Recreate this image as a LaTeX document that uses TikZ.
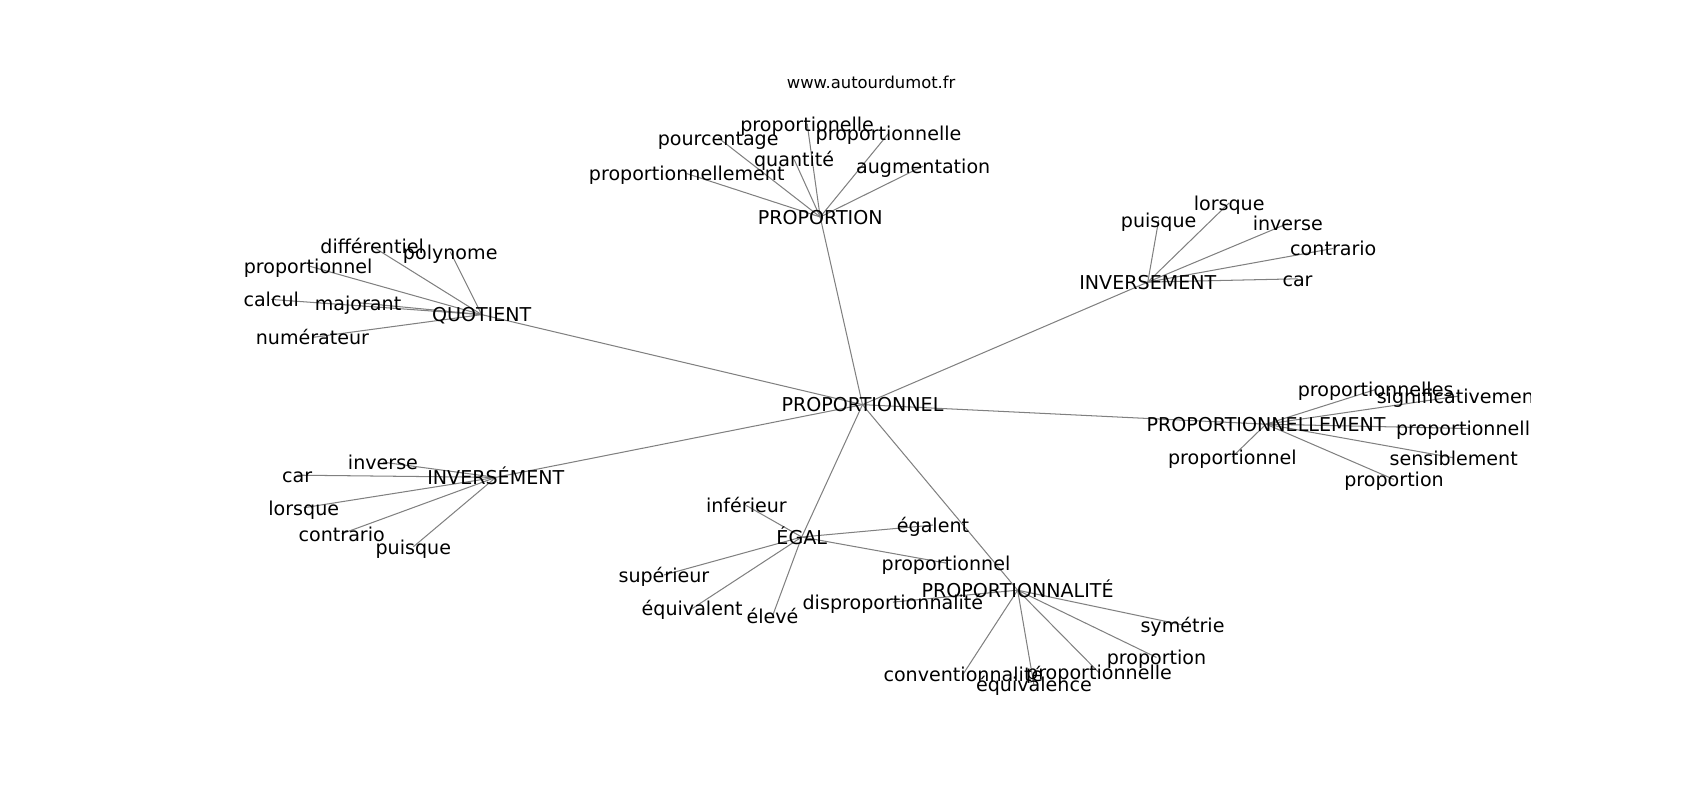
\documentclass[tikz,border=0pt]{standalone}
\usepackage{fontspec}
\newfontfamily\dv{DejaVu Sans}
\usetikzlibrary{backgrounds}
\tikzset{
  lbl/.style={font=\dv\fontsize{17.6}{20}\selectfont, inner sep=0pt, text height=15.4pt, text depth=1.9pt, anchor=center},
  ttl/.style={font=\dv\fontsize{15.1}{18}\selectfont, inner sep=0pt, text height=13.0pt, text depth=1.6pt, anchor=center},
  edge/.style={draw=gray, line width=0.95pt}
}
\begin{document}
\begin{tikzpicture}[x=1pt,y=-1pt]
\useasboundingbox (0,0) rectangle (1567,737.4);
\node[ttl] (title) at (803,76) {www.autourdumot.fr};
\begin{scope}
\clip (195.9,88.4) rectangle (1410.3,655.9);
% hubs
\node[lbl] (hub) at (795,373) {PROPORTIONNEL};
\node[lbl] (prop) at (756,200) {PROPORTION};
\node[lbl] (quot) at (444,290) {QUOTIENT};
\node[lbl] (invA) at (1058,260) {INVERSEMENT};
\node[lbl] (invB) at (457,440) {INVERSÉMENT};
\node[lbl] (pnlm) at (1167,391) {PROPORTIONNELLEMENT};
\node[lbl] (egal) at (739,495) {ÉGAL};
\node[lbl] (pnal) at (938,544) {PROPORTIONNALITÉ};
% PROPORTION leaves
\node[lbl] (p1) at (744,114) {proportionelle};
\node[lbl] (p2) at (662,127) {pourcentage};
\node[lbl] (p3) at (819,123) {proportionnelle};
\node[lbl] (p4) at (732,147) {quantité};
\node[lbl] (p5) at (851,153) {augmentation};
\node[lbl] (p6) at (633,160) {proportionnellement};
% QUOTIENT leaves
\node[lbl] (q1) at (343,227) {différentiel};
\node[lbl] (q2) at (415,232) {polynome};
\node[lbl] (q3) at (284,245) {proportionnel};
\node[lbl] (q4) at (250,276) {calcul};
\node[lbl] (q5) at (330,279) {majorant};
\node[lbl] (q6) at (288,311) {numérateur};
% INVERSEMENT leaves
\node[lbl] (a1) at (1068,203) {puisque};
\node[lbl] (a2) at (1133,187) {lorsque};
\node[lbl] (a3) at (1187,206) {inverse};
\node[lbl] (a4) at (1229,229) {contrario};
\node[lbl] (a5) at (1196,257) {car};
% INVERSÉMENT leaves
\node[lbl] (b1) at (353,426) {inverse};
\node[lbl] (b2) at (274,438) {car};
\node[lbl] (b3) at (280,468) {lorsque};
\node[lbl] (b4) at (315,492) {contrario};
\node[lbl] (b5) at (381,504) {puisque};
% PROPORTIONNELLEMENT leaves
\node[lbl] (m1) at (1268,359) {proportionnelles};
\node[lbl] (m2) at (1345,365) {significativement};
\node[lbl] (m3) at (1354,395) {proportionnelle};
\node[lbl] (m4) at (1340,422) {sensiblement};
\node[lbl] (m5) at (1285,442) {proportion};
\node[lbl] (m6) at (1136,421) {proportionnel};
% ÉGAL leaves
\node[lbl] (e1) at (688,466) {inférieur};
\node[lbl] (e2) at (860,484) {égalent};
\node[lbl] (e3) at (872,519) {proportionnel};
\node[lbl] (e4) at (612,530) {supérieur};
\node[lbl] (e5) at (638,561) {équivalent};
\node[lbl] (e6) at (712,568) {élevé};
% PROPORTIONNALITÉ leaves
\node[lbl] (n1) at (823,555) {disproportionnalité};
\node[lbl] (n2) at (1090,576) {symétrie};
\node[lbl] (n3) at (1066,606) {proportion};
\node[lbl] (n4) at (1013,620) {proportionnelle};
\node[lbl] (n5) at (888,621) {conventionnalité};
\node[lbl] (n6) at (953,631) {équivalence};
\end{scope}
\begin{scope}[on background layer]
\foreach \h in {prop,quot,invA,invB,pnlm,egal,pnal}
  \draw[edge] (hub.center) -- (\h.center);
\foreach \l in {p1,p2,p3,p4,p5,p6}
  \draw[edge] (prop.center) -- (\l.center);
\foreach \l in {q1,q2,q3,q4,q5,q6}
  \draw[edge] (quot.center) -- (\l.center);
\foreach \l in {a1,a2,a3,a4,a5}
  \draw[edge] (invA.center) -- (\l.center);
\foreach \l in {b1,b2,b3,b4,b5}
  \draw[edge] (invB.center) -- (\l.center);
\foreach \l in {m1,m2,m3,m4,m5,m6}
  \draw[edge] (pnlm.center) -- (\l.center);
\foreach \l in {e1,e2,e3,e4,e5,e6}
  \draw[edge] (egal.center) -- (\l.center);
\foreach \l in {n1,n2,n3,n4,n5,n6}
  \draw[edge] (pnal.center) -- (\l.center);
\end{scope}
\end{tikzpicture}
\end{document}
